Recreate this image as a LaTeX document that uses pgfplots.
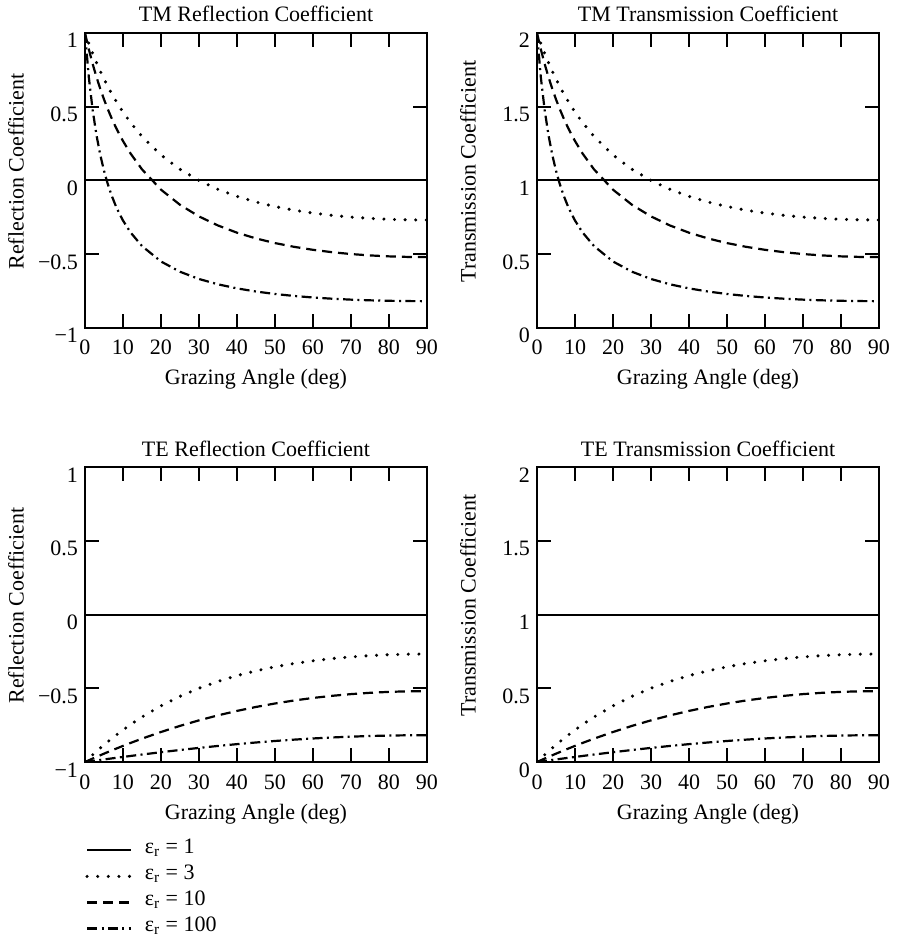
\documentclass[border=0pt]{standalone}
\usepackage{fontspec}
\setmainfont{Liberation Serif}
\usepackage{pgfplots}
\usepackage{pgfplotstable}
\pgfplotsset{compat=1.18}

\newcommand\fs{\fontsize{11}{13.2}\selectfont}

% ang = grazing angle (deg); r = reflection, t = transmission coefficient
\pgfplotstableread{
ang r3 r10 r100 t3 t10 t100
0 1 1 1 2 2 2
1 0.92861 0.89005 0.70155 1.92861 1.89005 1.70155
2 0.86218 0.79160 0.48066 1.86218 1.79160 1.48066
3 0.80027 0.70296 0.31063 1.80027 1.70296 1.31063
4 0.74247 0.62277 0.17574 1.74247 1.62277 1.17574
5 0.68843 0.54991 0.06615 1.68843 1.54991 1.06615
6 0.63782 0.48344 -0.02462 1.63782 1.48344 0.97538
7 0.59037 0.42258 -0.10102 1.59037 1.42258 0.89898
8 0.54582 0.36667 -0.16618 1.54582 1.36667 0.83382
9 0.50394 0.31515 -0.22240 1.50394 1.31515 0.77760
10 0.46454 0.26754 -0.27139 1.46454 1.26754 0.72861
12 0.39241 0.18246 -0.35257 1.39241 1.18246 0.64743
15 0.29864 0.07554 -0.44450 1.29864 1.07554 0.55550
20 0.17288 -0.06223 -0.54908 1.17288 0.93777 0.45092
25 0.07586 -0.16491 -0.61859 1.07586 0.83509 0.38141
30 0 -0.24357 -0.66771 1 0.75643 0.33229
35 -0.05994 -0.30505 -0.70393 0.94006 0.69495 0.29607
40 -0.10768 -0.35381 -0.73143 0.89232 0.64619 0.26857
45 -0.14590 -0.39287 -0.75274 0.85410 0.60713 0.24726
50 -0.17657 -0.42431 -0.76949 0.82343 0.57569 0.23051
55 -0.20117 -0.44965 -0.78273 0.79883 0.55035 0.21727
60 -0.22079 -0.46999 -0.79320 0.77921 0.53001 0.20680
65 -0.23626 -0.48612 -0.80141 0.76374 0.51388 0.19859
70 -0.24820 -0.49864 -0.80774 0.75180 0.50136 0.19226
75 -0.25707 -0.50797 -0.81243 0.74293 0.49203 0.18757
80 -0.26318 -0.51444 -0.81566 0.73682 0.48556 0.18434
85 -0.26677 -0.51824 -0.81756 0.73323 0.48176 0.18244
90 -0.26795 -0.51949 -0.81818 0.73205 0.48051 0.18182
}\tmdata

\pgfplotstableread{
ang r3 r10 r100 t3 t10 t100
0 -1 -1 -1 0 0 0
1 -0.97562 -0.98843 -0.99650 0.02438 0.01157 0.00350
2 -0.95185 -0.97700 -0.99301 0.04815 0.02300 0.00699
3 -0.92867 -0.96571 -0.98953 0.07133 0.03429 0.01047
4 -0.90610 -0.95456 -0.98608 0.09390 0.04544 0.01392
5 -0.88411 -0.94356 -0.98263 0.11589 0.05644 0.01737
6 -0.86270 -0.93270 -0.97921 0.13730 0.06730 0.02079
7 -0.84187 -0.92199 -0.97580 0.15813 0.07801 0.02420
8 -0.82160 -0.91142 -0.97243 0.17840 0.08858 0.02757
9 -0.80189 -0.90101 -0.96905 0.19811 0.09899 0.03095
10 -0.78273 -0.89074 -0.96570 0.21727 0.10926 0.03430
12 -0.74604 -0.87067 -0.95907 0.25396 0.12933 0.04093
15 -0.69488 -0.84170 -0.94931 0.30512 0.15830 0.05069
20 -0.61934 -0.79650 -0.93357 0.38066 0.20350 0.06643
25 -0.55482 -0.75516 -0.91858 0.44518 0.24484 0.08142
30 -0.5 -0.71762 -0.90442 0.5 0.28238 0.09558
35 -0.45365 -0.68380 -0.89116 0.54635 0.31620 0.10884
40 -0.41464 -0.65357 -0.87887 0.58536 0.34643 0.12113
45 -0.38197 -0.62679 -0.86761 0.61803 0.37321 0.13239
50 -0.35475 -0.60332 -0.85742 0.64525 0.39668 0.14258
55 -0.33225 -0.58302 -0.84834 0.66775 0.41698 0.15166
60 -0.31386 -0.56574 -0.84042 0.68614 0.43426 0.15958
65 -0.29907 -0.55136 -0.83367 0.70093 0.44864 0.16633
70 -0.28747 -0.53975 -0.82811 0.71253 0.46025 0.17189
75 -0.27877 -0.53083 -0.82378 0.72123 0.46917 0.17622
80 -0.27270 -0.52451 -0.82067 0.72730 0.47549 0.17933
85 -0.26913 -0.52074 -0.81880 0.73087 0.47926 0.18120
90 -0.26795 -0.51949 -0.81818 0.73205 0.48051 0.18182
}\tedata

\pgfplotsset{
  fres/.style={
    scale only axis, width=171pt, height=147.5pt,
    anchor=north west,
    xmin=0, xmax=90, xtick={0,10,...,90},
    tick align=inside, major tick length=7pt,
    axis line style={line width=1.1pt},
    every tick/.style={black, line width=0.8pt},
    font=\fs,
    /pgf/number format/assume math mode=true,
    every axis title/.style={at={(axis description cs:0.5,1)}, anchor=base, yshift=5.5pt, font=\fs},
    xlabel={Grazing Angle (deg)},
    xlabel style={at={(axis description cs:0.5,0)}, anchor=base, yshift=-28.5pt, font=\fs},
    every axis y label/.style={at={(axis description cs:-0.2018,0.53)}, anchor=center, rotate=90, font=\fs},
    xticklabel style={anchor=base, yshift=-13.5pt, font=\fs},
    yticklabel style={anchor=base east, yshift=-7.5pt, font=\fs},
  },
  refl/.style={ymin=-1, ymax=1, ytick={-1,-0.5,0,0.5,1},
    yticklabels={−1,−0.5,0,0.5,1}, ylabel={Reflection Coefficient}},
  trans/.style={ymin=0, ymax=2, ytick={0,0.5,1,1.5,2},
    yticklabels={0,0.5,1,1.5,2}, ylabel={Transmission Coefficient}},
  eps1/.style={black, line width=1pt},
  eps3/.style={black, line width=1.7pt, line cap=round, dash pattern=on 0pt off 5.3pt},
  eps10/.style={black, line width=1.1pt, dash pattern=on 5pt off 3pt},
  eps100/.style={black, line width=1.1pt, dash pattern=on 5pt off 2.2pt on 1pt off 2.2pt},
}

\begin{document}
\begin{tikzpicture}
\path[use as bounding box] (0,0) rectangle (448.5pt,-470pt);

% TM reflection
\begin{axis}[fres, refl, at={(42.5pt,-16.5pt)}, title={TM Reflection Coefficient}]
\addplot[eps1] coordinates {(0,0) (90,0)};
\addplot[eps3] table[x=ang, y=r3] {\tmdata};
\addplot[eps10] table[x=ang, y=r10] {\tmdata};
\addplot[eps100] table[x=ang, y=r100] {\tmdata};
\end{axis}

% TM transmission
\begin{axis}[fres, trans, at={(268.5pt,-16.5pt)}, title={TM Transmission Coefficient}]
\addplot[eps1] coordinates {(0,1) (90,1)};
\addplot[eps3] table[x=ang, y=t3] {\tmdata};
\addplot[eps10] table[x=ang, y=t10] {\tmdata};
\addplot[eps100] table[x=ang, y=t100] {\tmdata};
\end{axis}

% TE reflection, with the legend below it
\begin{axis}[fres, refl, at={(42.5pt,-233.5pt)}, title={TE Reflection Coefficient},
  legend style={at={(axis description cs:0,0)}, anchor=north west, yshift=-37.5pt,
    draw=none, fill=none, inner sep=0pt, font=\fs, row sep=0pt,
    nodes={inner sep=0pt, text height=8pt, text depth=5pt},
    /tikz/every odd column/.append style={column sep=6pt}},
  legend cell align=left,
  legend image code/.code={\draw[#1] (0pt,0pt) -- (22pt,0pt);},
]
\addplot[eps1] coordinates {(0,0) (90,0)};
\addplot[eps3] table[x=ang, y=r3] {\tedata};
\addplot[eps10] table[x=ang, y=r10] {\tedata};
\addplot[eps100] table[x=ang, y=r100] {\tedata};
\legend{ε\textsubscript{r} = 1, ε\textsubscript{r} = 3, ε\textsubscript{r} = 10, ε\textsubscript{r} = 100}
\end{axis}

% TE transmission
\begin{axis}[fres, trans, at={(268.5pt,-233.5pt)}, title={TE Transmission Coefficient}]
\addplot[eps1] coordinates {(0,1) (90,1)};
\addplot[eps3] table[x=ang, y=t3] {\tedata};
\addplot[eps10] table[x=ang, y=t10] {\tedata};
\addplot[eps100] table[x=ang, y=t100] {\tedata};
\end{axis}
\end{tikzpicture}
\end{document}
